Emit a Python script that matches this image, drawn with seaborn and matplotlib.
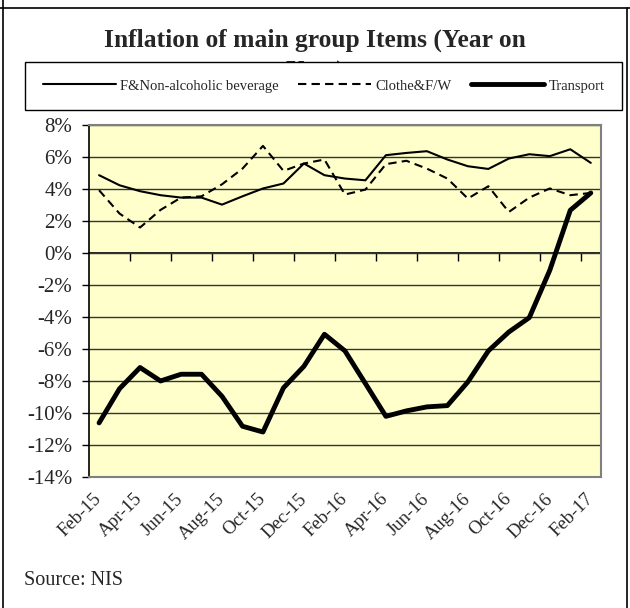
import numpy as np
import pandas as pd
import matplotlib.pyplot as plt
from matplotlib.lines import Line2D
from matplotlib.ticker import FuncFormatter
import seaborn as sns

months = ['Feb-15', 'Mar-15', 'Apr-15', 'May-15', 'Jun-15', 'Jul-15', 'Aug-15',
          'Sep-15', 'Oct-15', 'Nov-15', 'Dec-15', 'Jan-16', 'Feb-16', 'Mar-16',
          'Apr-16', 'May-16', 'Jun-16', 'Jul-16', 'Aug-16', 'Sep-16', 'Oct-16',
          'Nov-16', 'Dec-16', 'Jan-17', 'Feb-17']

# year-on-year inflation, %
food = [4.86, 4.23, 3.86, 3.61, 3.46, 3.46, 3.02, 3.54, 4.03, 4.34, 5.59, 4.86, 4.65,
        4.54, 6.11, 6.25, 6.36, 5.84, 5.42, 5.25, 5.90, 6.17, 6.05, 6.48, 5.63]
clothe = [3.92, 2.46, 1.59, 2.69, 3.46, 3.54, 4.29, 5.27, 6.69, 5.13, 5.59, 5.84, 3.65,
          3.96, 5.55, 5.76, 5.27, 4.65, 3.40, 4.17, 2.56, 3.46, 4.03, 3.61, 3.75]
transport = [-10.62, -8.48, -7.16, -8.00, -7.58, -7.58, -8.96, -10.83, -11.19, -8.43,
             -7.08, -5.08, -6.12, -8.16, -10.21, -9.87, -9.62, -9.54, -8.06, -6.12,
             -4.94, -4.04, -1.08, 2.67, 3.75]

series_names = ['F&Non-alcoholic beverage', 'Clothe&F/W', 'Transport']

df = pd.DataFrame({'pos': np.arange(len(months)), 'month': months,
                   'food': food, 'clothe': clothe, 'transport': transport})

sns.set_style('white')
plt.rcParams['font.family'] = ['Liberation Serif', 'DejaVu Serif']

fig = plt.figure(figsize=(6.3, 6.08), dpi=100)
ax = fig.add_axes([0.141, 0.2155, 0.813, 0.579])
ax.patch.set_facecolor('#FFFFCC')

sns.lineplot(data=df, x='pos', y='food', ax=ax, color='black', lw=1.5,
             label=series_names[0])
sns.lineplot(data=df, x='pos', y='clothe', ax=ax, color='black', lw=1.5,
             dashes=False, label=series_names[1]).lines[-1].set_dashes([4, 2.5])
sns.lineplot(data=df, x='pos', y='transport', ax=ax, color='black', lw=3.5,
             label=series_names[2])

ymin, ymax = -14, 8
ax.set_xlim(-0.5, len(months) - 0.5)
ax.set_ylim(ymin, ymax)
ax.set_yticks(range(ymin, ymax + 1, 2))
ax.yaxis.set_major_formatter(FuncFormatter(lambda v, p: f'{v:.0f}%'))
ax.yaxis.grid(True, color='#333333', lw=1)
ax.set_axisbelow(True)

ax.set_xticks(df['pos'][::2], labels=months[::2])
ax.tick_params(axis='x', length=0, pad=14, labelsize=13.5)
for t in ax.get_xticklabels():
    t.set_rotation(45)
    t.set_ha('right')
    t.set_va('center')
    t.set_rotation_mode('anchor')
ax.tick_params(axis='y', left=True, length=5, width=1, color='black',
               labelsize=15, pad=7)
ax.set_xlabel('')
ax.set_ylabel('')

for s in ['top', 'right', 'bottom']:
    ax.spines[s].set_color('#808080')
    ax.spines[s].set_linewidth(1.5)
ax.spines['left'].set_color('black')
ax.spines['left'].set_linewidth(1.2)

# category axis crossing at 0% with tick marks between categories
secax = ax.secondary_xaxis((0 - ymin) / (ymax - ymin))
secax.set_alignment('bottom')
secax.set_xticks(np.arange(1.5, len(months) - 1, 2), labels=[])
secax.tick_params(direction='out', length=6, width=1, color='black')
secax.spines['bottom'].set_color('black')
secax.spines['bottom'].set_linewidth(1.2)

handles, labels = ax.get_legend_handles_labels()
ax.get_legend().remove()

# title: second line is partly hidden by the legend box, as in the original
fig.text(0.5, 0.934, 'Inflation of main group Items (Year on', ha='center',
         va='center', fontsize=18.4, fontweight='bold', zorder=1)
fig.text(0.5, 0.881, 'Year)', ha='center', va='center', fontsize=18.4,
         fontweight='bold', zorder=1)

leg = fig.legend(handles, labels, loc='lower left', ncol=3, mode='expand',
                 bbox_to_anchor=(0.04, 0.819, 0.947, 0.079), fontsize=10.5,
                 frameon=True, fancybox=False, edgecolor='black', framealpha=1,
                 handlelength=5, borderaxespad=0, borderpad=1.2,
                 columnspacing=1, handletextpad=0.3)
leg.get_frame().set_linewidth(1)
leg.set_zorder(5)

fig.text(0.038, 0.045, 'Source: NIS', fontsize=14.5, va='center')

# outer frame
fig.add_artist(Line2D([0, 1], [0.987, 0.987], color='black', lw=1.2))
fig.add_artist(Line2D([0.005, 0.005], [0, 1], color='black', lw=1.2))
fig.add_artist(Line2D([0.996, 0.996], [0, 0.987], color='black', lw=1.2))

fig.savefig('out.png', dpi=100)
